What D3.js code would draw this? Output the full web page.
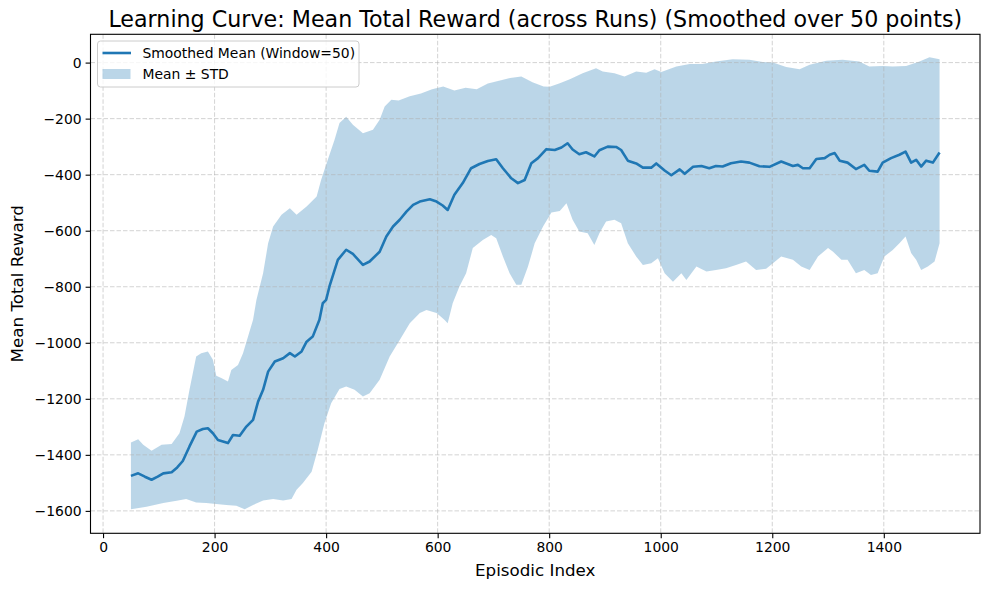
<!DOCTYPE html>
<html>
<head>
<meta charset="utf-8">
<script src="https://cdn.jsdelivr.net/npm/d3@7"></script>
<style>
  body { margin: 0; background: #fff; }
  text { font-family: "DejaVu Sans", sans-serif; fill: #000; }
</style>
</head>
<body>
<div id="wrapper"></div>
<script>
// DATA
const meanEpisodes = [50, 63, 75, 87, 98, 108, 123, 133, 143, 155, 168, 179, 188, 197, 206, 215, 224, 233, 245, 257, 269, 278, 287, 296, 308, 323, 335, 344, 356, 365, 376, 388, 394, 400, 406, 421, 436, 448, 466, 478, 496, 508, 520, 532, 544, 556, 568, 586, 598, 609, 618, 630, 645, 660, 675, 690, 705, 717, 732, 744, 756, 768, 780, 795, 810, 822, 833, 842, 854, 866, 881, 890, 905, 920, 929, 941, 956, 968, 983, 992, 1007, 1019, 1034, 1043, 1058, 1073, 1087, 1099, 1111, 1126, 1144, 1159, 1177, 1195, 1216, 1237, 1246, 1255, 1267, 1279, 1294, 1303, 1312, 1321, 1335, 1350, 1365, 1374, 1389, 1398, 1413, 1428, 1439, 1449, 1458, 1467, 1476, 1488, 1500]
const meanValues = [-1475, -1466, -1478, -1489, -1478, -1466, -1462, -1445, -1422, -1370, -1317, -1308, -1305, -1323, -1347, -1352, -1358, -1329, -1332, -1299, -1275, -1210, -1168, -1103, -1067, -1055, -1037, -1049, -1031, -996, -978, -918, -859, -847, -799, -704, -668, -683, -722, -710, -675, -621, -585, -561, -532, -508, -496, -488, -496, -510, -526, -472, -430, -377, -362, -351, -345, -377, -413, -430, -419, -359, -341, -309, -312, -303, -288, -310, -327, -320, -335, -313, -300, -301, -312, -350, -360, -375, -375, -360, -385, -402, -381, -397, -372, -369, -377, -369, -371, -359, -353, -357, -370, -372, -353, -369, -365, -377, -377, -344, -341, -329, -323, -350, -357, -380, -365, -386, -389, -357, -341, -329, -318, -357, -347, -371, -350, -357, -321]

const upperEpisodes = [50, 63, 72, 87, 105, 123, 137, 146, 155, 167, 176, 188, 197, 203, 212, 224, 230, 242, 251, 260, 269, 275, 287, 296, 305, 320, 335, 347, 365, 383, 391, 403, 415, 424, 436, 448, 466, 484, 496, 505, 517, 530, 550, 570, 590, 610, 630, 650, 670, 690, 710, 730, 750, 770, 790, 801, 819, 837, 860, 884, 896, 917, 935, 956, 974, 989, 1001, 1028, 1052, 1075, 1099, 1129, 1159, 1183, 1201, 1225, 1249, 1267, 1297, 1326, 1356, 1374, 1398, 1416, 1440, 1464, 1482, 1500]
const upperValues = [-1356, -1344, -1364, -1385, -1364, -1361, -1323, -1263, -1168, -1049, -1037, -1031, -1061, -1118, -1126, -1138, -1097, -1079, -1037, -978, -918, -847, -752, -645, -585, -543, -520, -543, -514, -478, -419, -347, -276, -216, -193, -222, -252, -240, -204, -157, -133, -135, -120, -110, -95, -85, -100, -90, -95, -75, -65, -55, -50, -70, -85, -86, -74, -59, -38, -20, -32, -38, -50, -32, -36, -24, -34, -14, -5, -5, 4, 12, 10, 2, 0, -16, -24, -8, 7, 10, 4, -14, -12, -14, -12, 4, 19, 12]

const lowerEpisodes = [50, 78, 108, 132, 149, 167, 185, 203, 221, 239, 254, 269, 287, 305, 323, 338, 347, 358, 374, 385, 397, 409, 424, 436, 451, 466, 478, 496, 514, 532, 550, 568, 580, 598, 612, 618, 627, 639, 651, 663, 681, 696, 705, 717, 729, 741, 750, 762, 774, 789, 804, 819, 831, 842, 854, 869, 881, 890, 902, 917, 929, 941, 956, 968, 983, 995, 1007, 1022, 1037, 1046, 1064, 1082, 1099, 1117, 1135, 1153, 1171, 1189, 1216, 1237, 1252, 1267, 1282, 1300, 1309, 1324, 1335, 1350, 1365, 1377, 1389, 1401, 1416, 1428, 1439, 1449, 1458, 1467, 1479, 1491, 1500]
const lowerValues = [-1594, -1585, -1572, -1564, -1558, -1570, -1572, -1575, -1579, -1582, -1594, -1579, -1563, -1558, -1563, -1558, -1525, -1501, -1460, -1382, -1287, -1216, -1165, -1156, -1168, -1192, -1180, -1132, -1049, -990, -930, -894, -883, -894, -918, -930, -859, -799, -752, -662, -633, -615, -627, -692, -752, -793, -793, -728, -645, -585, -535, -530, -502, -561, -603, -609, -651, -609, -567, -561, -573, -645, -692, -722, -716, -698, -752, -782, -752, -776, -728, -746, -740, -734, -722, -710, -740, -736, -692, -704, -728, -740, -692, -662, -675, -704, -704, -752, -740, -758, -752, -692, -669, -645, -621, -680, -704, -740, -728, -710, -645]

const xTicks = [0, 200, 400, 600, 800, 1000, 1200, 1400]
const yTicks = [-1600, -1400, -1200, -1000, -800, -600, -400, -200, 0]

const titleText = "Learning Curve: Mean Total Reward (across Runs) (Smoothed over 50 points)"
const legendLabels = ["Smoothed Mean (Window=50)", "Mean \u00b1 STD"]

// DIMENSIONS
let dimensions = {
    width: 989,
    height: 590,
    margin: { top: 34.3, right: 9, bottom: 56.7, left: 90.5 }
}
dimensions.boundedWidth = dimensions.width - dimensions.margin.left - dimensions.margin.right
dimensions.boundedHeight = dimensions.height - dimensions.margin.top - dimensions.margin.bottom

const blue = "#1f77b4"

// SCALES
const xScale = d3.scaleLinear()
    .domain([-22.5, 1572.5])
    .range([0, dimensions.boundedWidth])

const yScale = d3.scaleLinear()
    .domain([-1680, 101])
    .range([dimensions.boundedHeight, 0])

// WRAPPER AND BOUNDS
const wrapper = d3.select('#wrapper')
    .append('svg')
    .attr('width', dimensions.width)
    .attr('height', dimensions.height)

const bounds = wrapper.append('g')
    .attr('transform', `translate(${dimensions.margin.left},${dimensions.margin.top})`)

// band: upper edge forward, lower edge back
const upperPoints = upperEpisodes.map((e, i) => [e, upperValues[i]])
const lowerPoints = lowerEpisodes.map((e, i) => [e, lowerValues[i]]).reverse()

const lineGenerator = d3.line()
    .x(d => xScale(d[0]))
    .y(d => yScale(d[1]))

bounds.append('path')
    .attr('d', lineGenerator(upperPoints.concat(lowerPoints)) + 'Z')
    .attr('fill', blue)
    .attr('fill-opacity', 0.3)
    .attr('stroke', 'none')

// grid
const grid = bounds.append('g')
    .attr('stroke', '#b0b0b0')
    .attr('stroke-opacity', 0.7)
    .attr('stroke-width', 0.8)
    .attr('stroke-dasharray', '4.5,2')

grid.selectAll('.gx')
    .data(xTicks)
    .enter().append('line')
    .attr('x1', d => xScale(d)).attr('x2', d => xScale(d))
    .attr('y1', 0).attr('y2', dimensions.boundedHeight)

grid.selectAll('.gy')
    .data(yTicks)
    .enter().append('line')
    .attr('y1', d => yScale(d)).attr('y2', d => yScale(d))
    .attr('x1', 0).attr('x2', dimensions.boundedWidth)

// mean line
const meanPoints = meanEpisodes.map((e, i) => [e, meanValues[i]])
bounds.append('path')
    .attr('d', lineGenerator(meanPoints))
    .attr('fill', 'none')
    .attr('stroke', blue)
    .attr('stroke-width', 2.6)
    .attr('stroke-linejoin', 'round')

// AXES
const xAxis = d3.axisBottom(xScale)
    .tickValues(xTicks)
    .tickSize(4.9)
    .tickPadding(4)
    .tickFormat(d3.format('d'))

const yAxis = d3.axisLeft(yScale)
    .tickValues(yTicks)
    .tickSize(4.9)
    .tickPadding(4)
    .tickFormat(d3.format('d'))

const xAxisGroup = bounds.append('g')
    .attr('transform', `translate(0,${dimensions.boundedHeight})`)
    .call(xAxis)

const yAxisGroup = bounds.append('g')
    .call(yAxis)

;[xAxisGroup, yAxisGroup].forEach(g => {
    g.select('.domain').remove()
    g.selectAll('line').attr('stroke', '#000').attr('stroke-width', 1.1)
    g.selectAll('text')
        .style('font-family', '"DejaVu Sans", sans-serif')
        .style('font-size', '13.9px')
        .attr('fill', '#000')
})

// spines
bounds.append('rect')
    .attr('width', dimensions.boundedWidth)
    .attr('height', dimensions.boundedHeight)
    .attr('fill', 'none')
    .attr('stroke', '#000')
    .attr('stroke-width', 1.1)

// LABELS
wrapper.append('text')
    .attr('x', dimensions.margin.left + dimensions.boundedWidth / 2)
    .attr('y', 27)
    .attr('text-anchor', 'middle')
    .style('font-size', '22.2px')
    .text(titleText)

wrapper.append('text')
    .attr('x', dimensions.margin.left + dimensions.boundedWidth / 2)
    .attr('y', 576)
    .attr('text-anchor', 'middle')
    .style('font-size', '16.7px')
    .text('Episodic Index')

wrapper.append('text')
    .attr('transform', `translate(23,${dimensions.margin.top + dimensions.boundedHeight / 2}) rotate(-90)`)
    .attr('text-anchor', 'middle')
    .style('font-size', '16.7px')
    .text('Mean Total Reward')

// LEGEND
const legend = wrapper.append('g')
    .attr('transform', 'translate(97.5,41)')

legend.append('rect')
    .attr('width', 261.5)
    .attr('height', 46)
    .attr('rx', 3)
    .attr('fill', '#fff')
    .attr('fill-opacity', 0.8)
    .attr('stroke', '#cccccc')
    .attr('stroke-width', 1)

legend.append('line')
    .attr('x1', 5).attr('x2', 33.5)
    .attr('y1', 12).attr('y2', 12)
    .attr('stroke', blue)
    .attr('stroke-width', 2.6)

legend.append('rect')
    .attr('x', 5).attr('y', 28)
    .attr('width', 28).attr('height', 10)
    .attr('fill', blue)
    .attr('fill-opacity', 0.3)

legend.selectAll('.legend-text')
    .data(legendLabels)
    .enter().append('text')
    .attr('x', 45)
    .attr('y', (d, i) => 17 + i * 21)
    .style('font-size', '13.9px')
    .text(d => d)
</script>
</body>
</html>
